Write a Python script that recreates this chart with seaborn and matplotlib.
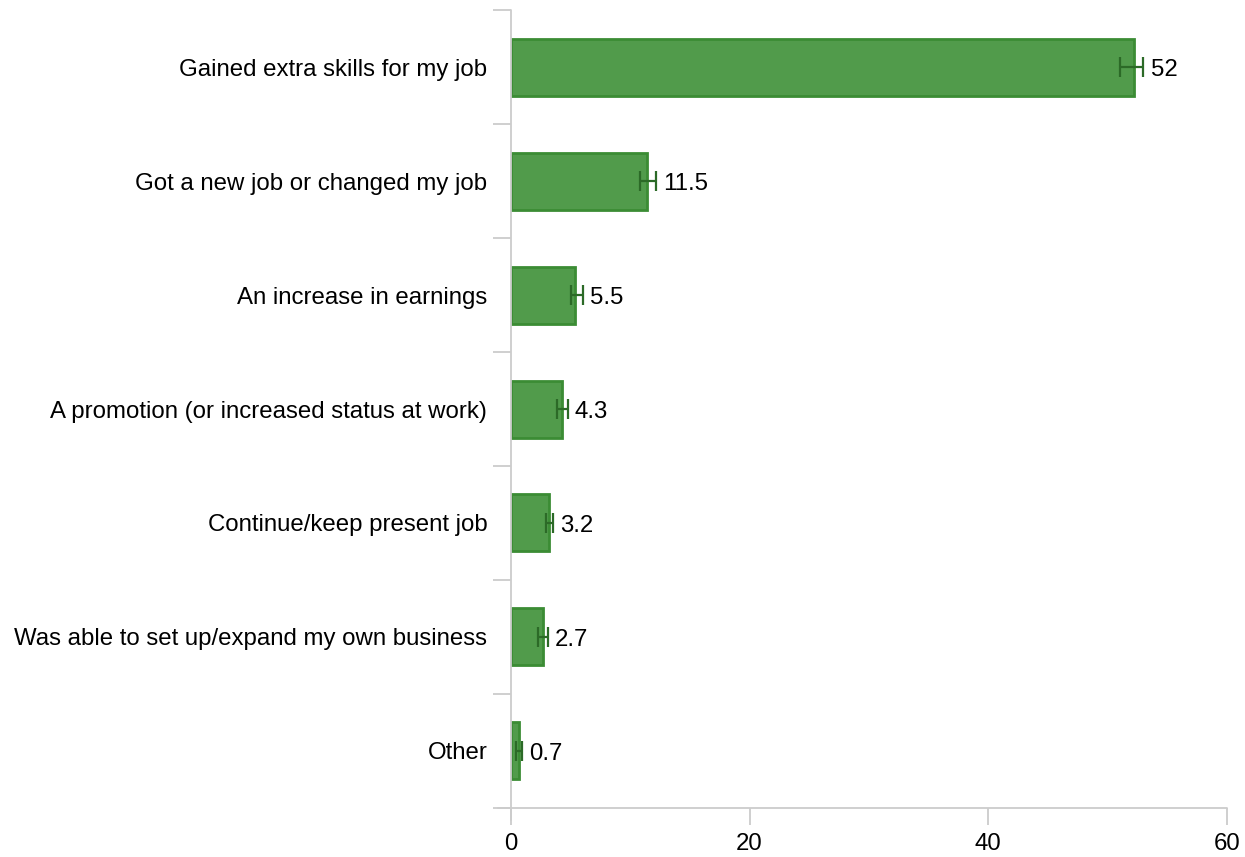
import pandas as pd
import matplotlib.pyplot as plt
import seaborn as sns
import numpy as np
from matplotlib.lines import Line2D

# Data
reasons = ['Gained extra skills for my job',
           'Got a new job or changed my job',
           'An increase in earnings',
           'A promotion (or increased status at work)',
           'Continue/keep present job',
           'Was able to set up/expand my own business',
           'Other']
values = [52, 11.5, 5.5, 4.3, 3.2, 2.7, 0.7]
bar_ends = [52.2, 11.4, 5.4, 4.3, 3.2, 2.7, 0.7]
err = [1.0, 0.65, 0.5, 0.45, 0.3, 0.4, 0.25]

df = pd.DataFrame({'reason': reasons, 'pct': bar_ends})

sns.set_style('white')
plt.rcParams['font.family'] = ['Liberation Sans', 'DejaVu Sans']

fig = plt.figure(figsize=(12.45, 8.57), dpi=100)
ax = fig.add_axes([0.4104, 0.0572, 0.9855 - 0.4104, 0.9883 - 0.0572])

sns.barplot(data=df, x='pct', y='reason', orient='h', width=0.5,
            color='#519b4b', edgecolor='#3b8c34', linewidth=2, saturation=1, ax=ax)

ypos = np.arange(len(reasons))
ax.errorbar(values, ypos, xerr=err, fmt='none', ecolor='#2c6a27',
            elinewidth=1.6, capsize=7, capthick=1.6)

for y, v, e in zip(ypos, values, err):
    ax.text(v + e + 0.6, y + 0.03, f'{v:g}', va='center', ha='left', fontsize=17.3, color='black')

ax.set_xlim(0, 60)
ax.set_ylim(6.5, -0.5)
ax.set_xticks([0, 20, 40, 60])
ax.set_xlabel('')
ax.set_ylabel('')

for s in ax.spines.values():
    s.set_visible(False)

grey = '#cccccc'
ax.add_line(Line2D([0, 0], [-0.015, 1], transform=ax.transAxes, color=grey, lw=1.3, clip_on=False))
ax.add_line(Line2D([-0.018, 1], [0, 0], transform=ax.transAxes, color=grey, lw=1.3, clip_on=False))

ax.set_yticks(np.arange(-0.5, 7, 1), minor=True)
ax.tick_params(axis='y', which='minor', length=13, color=grey, width=1.3, left=True)
ax.tick_params(axis='y', which='major', length=0, pad=17, labelsize=17.3, labelcolor='black')
ax.tick_params(axis='x', which='major', length=12, color=grey, width=1.3, bottom=True,
               pad=6, labelsize=17.3, labelcolor='black')

fig.savefig('out.png', dpi=100)
